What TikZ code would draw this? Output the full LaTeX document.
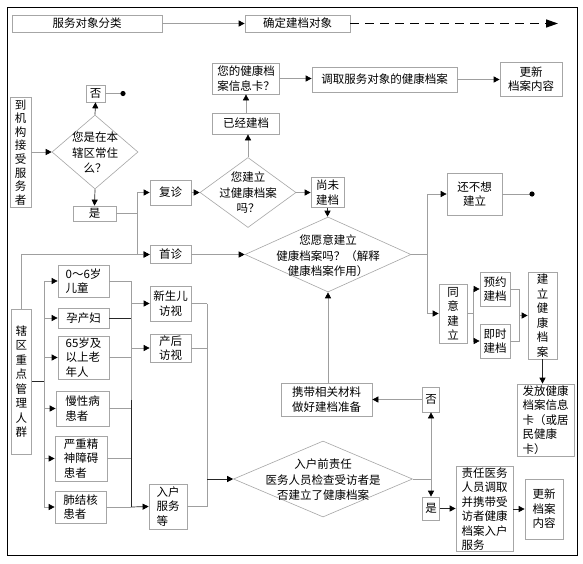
\documentclass[tikz,border=0pt]{standalone}
\usepackage{fontspec}
\setmainfont{Noto Sans CJK SC}
\usetikzlibrary{arrows.meta,shapes.geometric,calc}
\begin{document}
\begin{tikzpicture}[x=1pt,y=-1pt,
  bx/.style={draw=gray!70, line width=0.7pt, inner sep=1pt, align=center, font=\fontsize{11.5}{14.5}\selectfont},
  lbx/.style={bx, align=left, inner xsep=3pt},
  vbx/.style={bx, font=\fontsize{11.5}{13.6}\selectfont},
  dia/.style={draw=gray!70, line width=0.6pt, diamond, inner sep=0pt},
  dtxt/.style={align=center, font=\fontsize{11.5}{15.5}\selectfont},
  ln/.style={draw=gray!75, line width=0.7pt},
  dk/.style={draw=black!85, line width=0.7pt},
  arr/.style={ln, -{Triangle[length=6pt,width=6pt,color=black]}},
  darr/.style={dk, -{Triangle[length=6pt,width=6pt,color=black]}},
]
\useasboundingbox (0,0) rectangle (583,563);
\fill[white] (0,0) rectangle (583,563);
\draw[line width=1pt] (7,7) rectangle (577,555);

% top row
\node[bx, minimum width=150pt, minimum height=17pt] (top1) at (87,23.5) {服务对象分类};
\node[bx, minimum width=105pt, minimum height=17pt] (top2) at (297.5,23.5) {确定建档对象};
\coordinate (dashend) at (558,23.5);
\draw[arr] (top1.east) -- (top2.west);
\draw[line width=1.5pt, dash pattern=on 9pt off 6pt, -{Triangle[length=12pt,width=8pt]}] (top2.east) -- (dashend);

% upper branch
\node[bx, minimum width=67pt, minimum height=31pt] (card) at (246,78.5) {您的健康档\\案信息卡？};
\node[bx, minimum width=145pt, minimum height=25pt] (fetch) at (384.5,79.5) {调取服务对象的健康档案};
\node[bx, minimum width=62pt, minimum height=34pt] (upd1) at (531,79) {更新\\档案内容};
\node[bx, minimum width=67pt, minimum height=21pt] (built) at (246,123.5) {已经建档};

% first diamond
\node[bx, minimum width=19pt, minimum height=17pt] (no1) at (95.5,93.5) {否};
\coordinate (dot1) at (123,93.5);
\node[dia, minimum width=86pt, minimum height=74pt] (d1) at (95,152) {};
\node[dtxt] (d1t) at (95,153) {您是在本\\辖区常住\\么？};
\node[vbx, minimum width=21pt, minimum height=110pt] (arrive) at (20.5,152.5) {到\\机\\构\\接\\受\\服\\务\\者};
\node[bx, minimum width=43pt, minimum height=15pt] (yes1) at (94.5,213.5) {是};
\coordinate (jA) at (137,213.5);
\node[bx, minimum width=41pt, minimum height=25pt] (revisit) at (170.5,192.5) {复诊};
\node[bx, minimum width=41pt, minimum height=18pt] (first) at (170.5,254.5) {首诊};

% second diamond
\node[dia, minimum width=96pt, minimum height=70pt] (d2) at (248,192.5) {};
\node[dtxt] (d2t) at (248,193) {您建立\\过健康档案\\吗？};
\node[bx, minimum width=33pt, minimum height=30pt] (notyet) at (327.5,192.5) {尚未\\建档};

% third diamond
\node[dia, minimum width=166pt, minimum height=75pt] (d3) at (328,254.5) {};
\node[dtxt] (d3t) at (328,256) {您愿意建立\\健康档案吗？（解释\\健康档案作用）};
\coordinate (jB) at (427,254.5);
\node[bx, minimum width=55pt, minimum height=42pt] (notwant) at (474.5,194) {还不想\\建立};
\coordinate (dot2) at (532,194);
\node[bx, minimum width=28pt, minimum height=59pt] (agree) at (453,313.5) {同\\意\\建\\立};
\coordinate (jC) at (473,313.5);
\node[bx, minimum width=30pt, minimum height=34pt] (appt) at (495,289) {预约\\建档};
\node[bx, minimum width=30pt, minimum height=34pt] (instant) at (495,341) {即时\\建档};
\coordinate (jD) at (519,315.5);
\node[bx, minimum width=29pt, minimum height=87pt] (create) at (542.5,315.5) {建\\立\\健\\康\\档\\案};
\node[lbx, minimum width=57pt, minimum height=72pt, inner xsep=2pt] (issue) at (545.5,420) {发放健康\\档案信息\\卡（或居\\民健康\\卡）};

% bottom diamond
\node[bx, minimum width=91pt, minimum height=33pt] (carry) at (326.5,399.5) {携带相关材料\\做好建档准备};
\node[bx, minimum width=17pt, minimum height=25pt] (no2) at (431,399.5) {否};
\node[dia, minimum width=179pt, minimum height=76pt] (d4) at (323,479) {};
\node[dtxt] (d4t) at (323,480) {入户前责任\\医务人员检查受访者是\\否建立了健康档案};
\coordinate (jE) at (431,479);
\node[bx, minimum width=17pt, minimum height=23pt] (yes2) at (431,508.5) {是};
\node[lbx, minimum width=57pt, minimum height=82pt, inner xsep=2pt] (resp) at (484.5,509) {责任医务\\人员调取\\并携带受\\访者健康\\档案入户\\服务};
\node[bx, minimum width=38pt, minimum height=60pt] (upd2) at (544,509) {更新\\档案\\内容};

% left key group
\node[bx, minimum width=20pt, minimum height=145pt] (key) at (21.5,381.5) {辖\\区\\重\\点\\管\\理\\人\\群};
\coordinate (jF) at (44,381.5);
\node[lbx, minimum width=51pt, minimum height=32pt] (c1) at (83.5,281) {0～6岁\\儿童};
\node[lbx, minimum width=51pt, minimum height=20pt] (c2) at (83.5,318) {孕产妇};
\node[lbx, minimum width=51pt, minimum height=43pt] (c3) at (83.5,357.5) {65岁及\\以上老\\年人};
\node[lbx, minimum width=53pt, minimum height=35pt] (c4) at (82.5,408.5) {慢性病\\患者};
\node[lbx, minimum width=52pt, minimum height=45pt] (c5) at (81,458.5) {严重精\\神障碍\\患者};
\node[lbx, minimum width=51pt, minimum height=32pt] (c6) at (80.5,507) {肺结核\\患者};
\coordinate (jG) at (131,281);
\coordinate (jH) at (131,507);
\node[bx, minimum width=41pt, minimum height=35pt] (newborn) at (170.5,303.5) {新生儿\\访视};
\node[bx, minimum width=41pt, minimum height=28pt] (postp) at (170.5,348) {产后\\访视};
\node[lbx, minimum width=38pt, minimum height=45pt, inner xsep=2pt] (home) at (168,506.5) {入户\\服务\\等};
\coordinate (jI) at (207,303.5);
\coordinate (jJ) at (207,479);

% connectors upper
\draw[arr] (built.north) -- (card.south);
\draw[arr] (card.east) -- (card.east -| fetch.west);
\draw[arr] (fetch.east) -- (fetch.east -| upd1.west);
\draw[arr] (d2.north) -- (d2.north |- built.south);
\draw[darr] (d1.north) -- (no1.south);
\draw[ln] (no1.east) -- (dot1);
\fill (dot1) circle (2.6pt);
\draw[arr] (arrive.east |- d1.west) -- (d1.west);
\draw[darr] (d1.south) -- (yes1.north);
\draw[ln] (yes1.east) -- (jA);
\draw[arr] (jA) |- (revisit.west);
\draw[arr] (jA) |- (first.west);
\draw[arr] (key.north) |- (first.west);
\draw[arr] (revisit.east) -- (revisit.east -| d2.west);
\draw[arr] (d2.east) -- (d2.east -| notyet.west);
\draw[darr] (notyet.south) -- (notyet.south |- d3.north);
\draw[arr] (first.east) -- (d3.west);
\draw[ln] (d3.east) -- (jB);
\draw[arr] (jB) |- (notwant.west);
\draw[arr] (jB) |- (agree.west);
\draw[ln] (notwant.east) -- (dot2);
\fill (dot2) circle (2.6pt);
\draw[ln] (agree.east) -- (jC);
\draw[arr] (jC) |- (appt.west);
\draw[arr] (jC) |- (instant.west);
\draw[ln] (appt.east) -| (jD);
\draw[ln] (instant.east) -| (jD);
\draw[arr] (jD) -- (create.west);
\draw[darr] (create.south) -- (create.south |- issue.north);

% connectors lower
\draw[arr] (d3.south |- carry.north) -- (d3.south);
\draw[arr] (no2.west) -- (carry.east);
\draw[ln] (d4.east) -- (jE);
\draw[arr] (jE) -- (no2.south);
\draw[arr] (jE) -- (yes2.north);
\draw[darr] (yes2.east) -- (yes2.east -| resp.west);
\draw[darr] (resp.east |- upd2.west) -- (upd2.west);

% left group connectors
\draw[dk] (key.east) -- (jF);
\draw[ln] (44,281) -- (44,507);
\foreach \c in {c1,c2,c3,c4,c5,c6}{
  \draw[arr] (\c.west -| jF) -- (\c.west);
}
\draw[ln] (c1.east) -- (jG);
\draw[dk] (c2.east) -- (c2.east -| jG);
\foreach \c in {c3,c4,c5}{
  \draw[ln] (\c.east) -- (\c.east -| jG);
}
\draw[ln] (c6.east) -- (jH);
\draw[ln] (jG) -- (131,400);
\draw[dk] (131,400) -- (jH);
\draw[arr] (newborn.west -| jG) -- (newborn.west);
\draw[arr] (postp.west -| jG) -- (postp.west);
\draw[darr] (jH) -- (home.west);
\draw[ln] (newborn.east) -- (jI);
\draw[ln] (postp.east) -- (postp.east -| jI);
\draw[ln] (home.east) -| (jJ);
\draw[ln] (jI) -- (jJ);
\draw[darr] (jJ) -- (d4.west);
\end{tikzpicture}
\end{document}
